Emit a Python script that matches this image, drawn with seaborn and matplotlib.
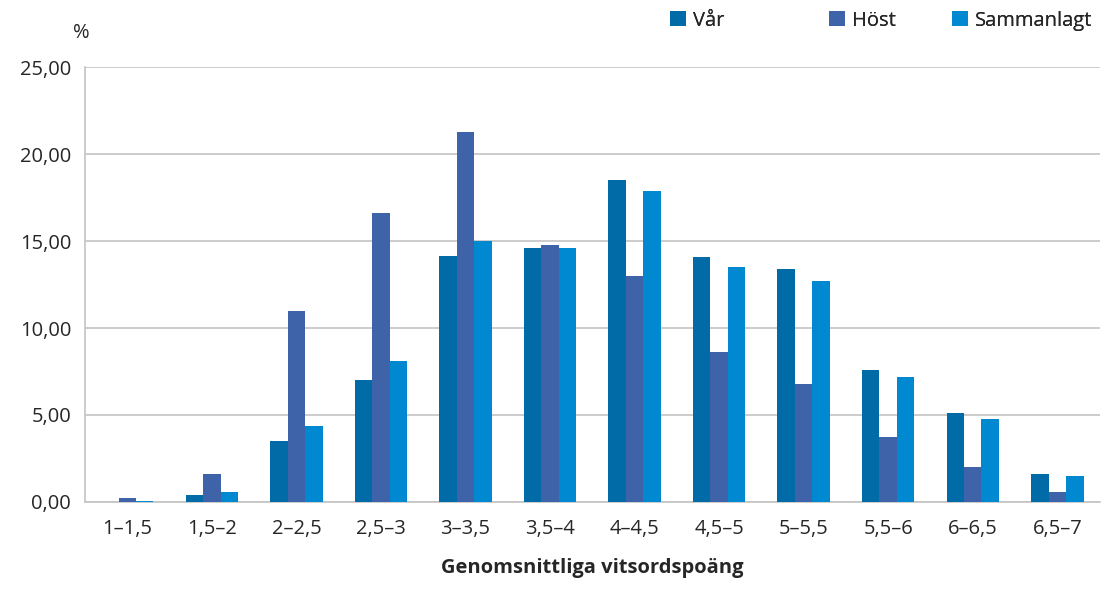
import matplotlib
matplotlib.use('Agg')
import matplotlib.pyplot as plt
import matplotlib.ticker as mticker
import numpy as np
import pandas as pd
import seaborn as sns

# ── Data ──────────────────────────────────────────────────────────────────────
categories = ['1–1,5', '1,5–2', '2–2,5', '2,5–3', '3–3,5', '3,5–4',
              '4–4,5', '4,5–5', '5–5,5', '5,5–6', '6–6,5', '6,5–7']
var_vals   = [0.02, 0.40, 3.50, 7.00, 14.15, 14.60, 18.50, 14.10, 13.42, 7.60, 5.10, 1.60]
host_vals  = [0.25, 1.58, 10.95, 16.60, 21.28, 14.80, 12.97, 8.63, 6.80, 3.72, 1.98, 0.55]
samm_vals  = [0.03, 0.55, 4.35, 8.10, 15.00, 14.60, 17.90, 13.48, 12.70, 7.20, 4.75, 1.48]
series     = ['Vår', 'Höst', 'Sammanlagt']
colors     = ['#006ba6', '#3e63a8', '#0088d0']
y_ticks    = [0, 5, 10, 15, 20, 25]

df = pd.DataFrame({
    'kat': categories * 3,
    'serie': [series[0]] * 12 + [series[1]] * 12 + [series[2]] * 12,
    'varde': var_vals + host_vals + samm_vals,
})

# ── Plot ──────────────────────────────────────────────────────────────────────
sns.set_style('white')
plt.rcParams['font.family'] = ['Open Sans', 'DejaVu Sans']

fig = plt.figure(figsize=(11.04, 5.94), dpi=100)
ax = fig.add_axes([0.077, 0.155, 0.919, 0.732])

sns.barplot(data=df, x='kat', y='varde', hue='serie', palette=colors,
            width=0.62, saturation=1, ax=ax, legend=True, zorder=3,
            linewidth=0, edgecolor='none')

ax.set_ylim(0, 25)
ax.set_xlim(-0.5, len(categories) - 0.5)
ax.set_yticks(y_ticks)
ax.yaxis.set_major_formatter(mticker.FuncFormatter(lambda v, p: f'{v:.2f}'.replace('.', ',')))
ax.grid(axis='y', color='#c4c4c4', linewidth=1.2, zorder=0)
ax.set_axisbelow(True)

for s in ['top', 'right']:
    ax.spines[s].set_visible(False)
for s in ['left', 'bottom']:
    ax.spines[s].set_color('#c4c4c4')
    ax.spines[s].set_linewidth(1.2)

ax.tick_params(axis='y', length=6, width=1.2, color='#c4c4c4', labelsize=14.5, pad=4)
ax.tick_params(axis='x', which='major', length=0, labelsize=14.5, pad=12)
ax.set_xticks(np.arange(-0.5, len(categories)), minor=True)
ax.tick_params(axis='x', which='minor', length=7, width=1.2, color='#c4c4c4')

ax.set_xlabel('Genomsnittliga vitsordspoäng', fontsize=14.5, fontweight='bold', labelpad=14)
ax.set_ylabel('')
fig.text(0.066, 0.945, '%', fontsize=14.5, ha='left', va='center')

# legend: three separate entries, spaced like the original
handles, labels = ax.get_legend_handles_labels()
ax.get_legend().remove()
leg_x = [0.607, 0.751, 0.862]
for h, l, x in zip(handles, labels, leg_x):
    lg = fig.legend([h], [l], loc='center left', bbox_to_anchor=(x, 0.965),
                    frameon=False, fontsize=14.5, handlelength=0.8, handleheight=0.8,
                    handletextpad=0.35, borderaxespad=0, borderpad=0)
    fig.add_artist(lg)

fig.savefig('out.png', dpi=100)
plt.close(fig)
